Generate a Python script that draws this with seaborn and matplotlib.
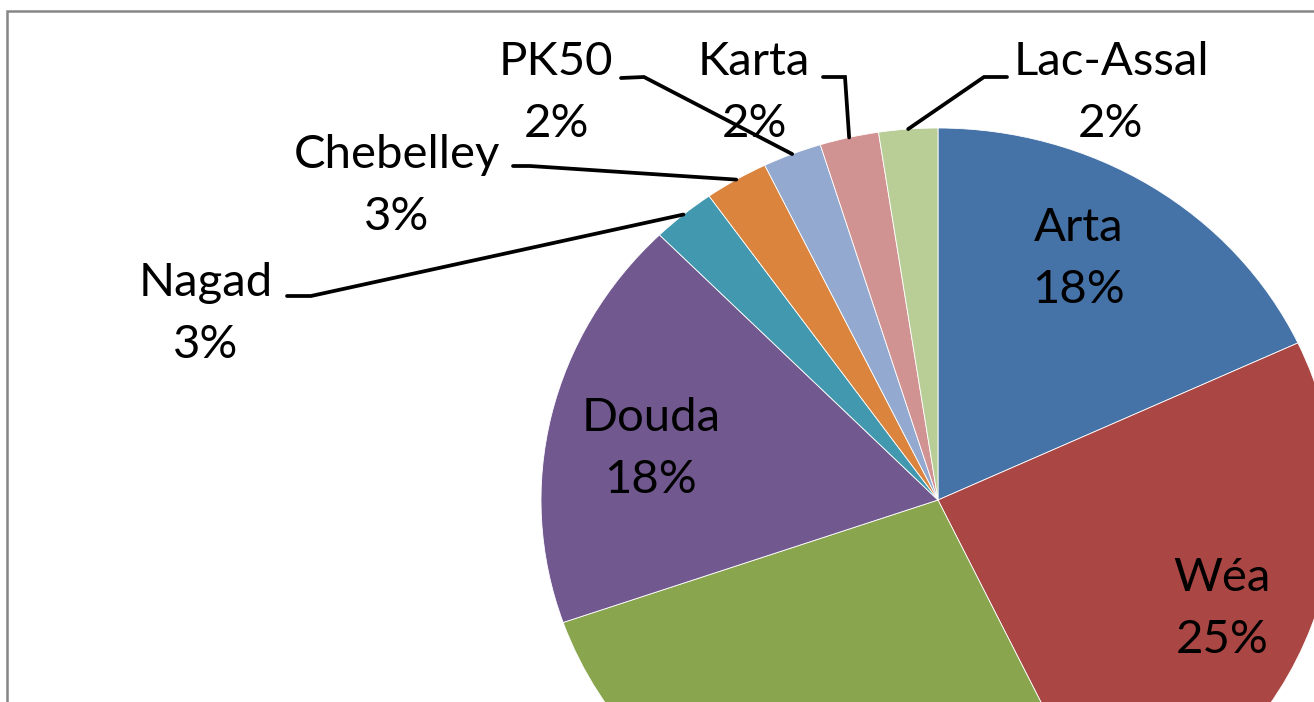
import matplotlib
matplotlib.use("Agg")
import matplotlib.pyplot as plt
from matplotlib.patches import Rectangle
import numpy as np
import seaborn as sns

# slices, clockwise from 12 o'clock (green slice label is cut off in the source)
categories = ["Arta", "Wéa", "", "Douda", "Nagad", "Chebelley", "PK50", "Karta", "Lac-Assal"]
values = [18.1, 24.9, 26.8, 18.0, 2.6, 2.6, 2.4, 2.4, 2.4]
colors = ["#4572A7", "#AA4643", "#89A54E", "#71588F", "#4198AF",
          "#DB843D", "#93A9CF", "#D19392", "#B9CD96"]

W, H = 1314, 702
# pie centre and radii in pixels (source image is slightly stretched)
CX, CY, RX, RY = 938, 500, 397, 372
LINE_GAP = 62


def to_data(px, py):
    return (px - CX) / RX, (CY - py) / RY


# label layout in pixels
inside = {"Arta": (1079, 228), "Wéa": (1222, 578), "Douda": (651, 418)}
outside = {
    # name centre, leader elbow, leader end
    "Lac-Assal": ((1111, 62), (984, 77), (1007, 77)),
    "Karta": ((754, 62), (845, 77), (823, 77)),
    "PK50": ((556, 62), (644, 77), (621, 78)),
    "Chebelley": ((397, 155), (530, 166), (513, 166)),
    "Nagad": ((206, 283), (311, 296), (287, 296)),
}

sns.set_style("white")
plt.rcParams["font.family"] = ["Lato", "DejaVu Sans"]
FS = 34

fig = plt.figure(figsize=(W / 100, H / 100), dpi=100)
ax = fig.add_axes([0, 0, 1, 1])
wedges, _ = ax.pie(values, colors=colors, startangle=90, counterclock=False,
                   radius=1, center=(0, 0),
                   wedgeprops=dict(edgecolor="white", linewidth=0.6))
ax.set_aspect("auto")
x0, y0 = to_data(0, H)
x1, y1 = to_data(W, 0)
ax.set_xlim(x0, x1)
ax.set_ylim(y0, y1)
ax.axis("off")

total = sum(values)
for name, val, w in zip(categories, values, wedges):
    if not name:
        continue
    pct = f"{round(val / total * 100)}%"
    if name in inside:
        px, py = inside[name]
    else:
        (px, py), elbow, end = outside[name]
        mid = np.deg2rad((w.theta1 + w.theta2) / 2)
        ax_, ay_ = np.cos(mid), np.sin(mid)
        ex, ey = to_data(*elbow)
        nx, ny = to_data(*end)
        ax.plot([ax_, ex, nx], [ay_, ey, ny], color="black", lw=2.7,
                solid_joinstyle="miter", clip_on=False)
    tx, ty = to_data(px, py)
    ax.text(tx, ty, name, fontsize=FS, color="black", ha="center", va="center")
    tx, ty = to_data(px, py + LINE_GAP)
    ax.text(tx, ty, pct, fontsize=FS, color="black", ha="center", va="center")

# chart area border (right and bottom are cropped away)
fig.add_artist(Rectangle((7 / W, -0.1), 1.2, (H - 11) / H + 0.1,
                         transform=fig.transFigure, fill=False,
                         edgecolor="#868686", lw=1.8))

fig.savefig("out.png", dpi=100)
